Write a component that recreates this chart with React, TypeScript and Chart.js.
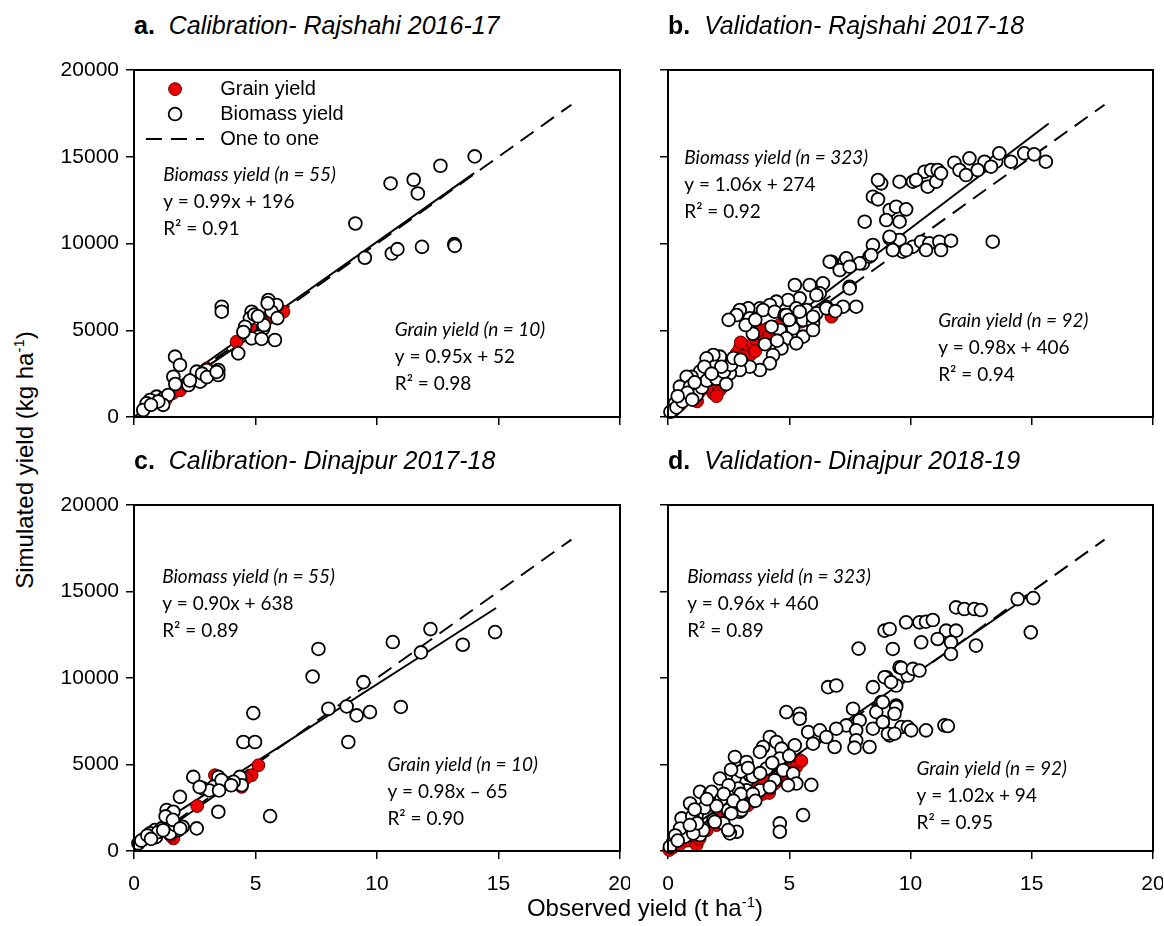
import React, { useEffect, useRef } from "react";
import { Chart, registerables } from "chart.js";
Chart.register(...registerables);

type P = [number, number];

// ---------- DATA ----------
const panelLetters = ["a.", "b.", "c.", "d."];
const panelTitles = [
  "Calibration- Rajshahi 2016-17",
  "Validation- Rajshahi 2017-18",
  "Calibration- Dinajpur 2017-18",
  "Validation- Dinajpur 2018-19",
];
const xTickValues = [0, 5, 10, 15, 20];
const yTickValues = [0, 5000, 10000, 15000, 20000];

const aGrain: P[] = [
  [1.6, 1380], [1.9, 1540], [4.22, 4340], [6.15, 6070], [5.39, 5690], [4.91, 5015],
  [1.3, 1000], [2.5, 2300], [3.0, 2800], [5.7, 5800],
];
const aBiomass: P[] = [
  [14.02, 15019], [12.61, 14481], [11.51, 13673], [11.68, 12885], [10.56, 13462], [9.11, 11154],
  [9.5, 9180], [10.61, 9423], [10.84, 9673], [11.85, 9808], [13.18, 9962], [13.2, 9865],
  [3.61, 6358], [3.61, 6070], [5.53, 6743], [5.87, 6455], [5.66, 6070], [5.5, 6550], [4.84, 6070],
  [4.77, 5686], [4.57, 5206], [5.32, 5110], [5.12, 4630], [4.84, 4534], [5.25, 4500], [5.8, 4438],
  [4.29, 3669], [1.69, 3477], [1.89, 2997], [1.62, 2324], [2.58, 2613], [2.99, 2709], [3.47, 2709],
  [3.47, 2420], [2.72, 2036], [2.24, 1844], [0.93, 1172], [1.21, 1076], [0.66, 980], [0.52, 788],
  [0.38, 403], [1.41, 1268], [1.2, 700], [5.9, 5700], [4.95, 5900], [5.35, 5300], [2.8, 2500],
  [3.0, 2300], [1.0, 900], [0.7, 700], [5.1, 5800], [4.5, 4900], [3.4, 2600], [2.3, 2100], [1.7, 1900],
];

const bGrain: P[] = [
  [0.5, 700], [0.8, 1100], [1.04, 1556], [1.3, 1450], [1.87, 1364], [2.14, 1556], [1.2, 900], [2.0, 1200],
  [2.3, 1800], [2.6, 2600], [2.83, 3669], [2.96, 3957], [3.31, 4053], [3.51, 4245], [3.65, 4438],
  [3.92, 4630], [3.79, 5014], [4.0, 4400], [4.1, 5100], [4.2, 4700], [3.4, 3600], [3.1, 3500],
  [4.4, 5000], [4.6, 5300], [5.5, 5500], [6.0, 5600], [6.74, 5782], [3.6, 3800], [3.0, 4300], [1.6, 1700],
];
const bBiomass: P[] = [
  [11.81, 14657], [12.43, 14907], [13.05, 14715], [13.53, 14715], [13.66, 15195], [14.14, 14715],
  [14.69, 15195], [15.1, 15137], [15.58, 14715], [12.02, 14235], [12.29, 13946], [12.77, 14235],
  [13.32, 14427], [10.58, 14139], [10.85, 14235], [11.12, 14235], [10.71, 13274], [11.06, 13562],
  [11.26, 14043], [10.1, 13562], [10.23, 13658], [9.55, 13562], [8.79, 13466], [8.66, 13658],
  [8.45, 12698], [8.66, 12544], [9.14, 11929], [9.41, 12121], [9.82, 11968], [9.0, 11353],
  [9.55, 11257], [8.11, 11257], [9.14, 10297], [9.55, 10200], [8.45, 9912], [10.1, 9816],
  [10.44, 10104], [10.78, 10008], [11.19, 10104], [11.67, 10162], [9.68, 9528], [9.27, 9624],
  [10.64, 9624], [11.26, 9624], [8.04, 8856], [8.31, 9240], [13.39, 10104],
  [9.14, 10393], [7.28, 8952], [6.74, 8952], [7.08, 8472], [7.49, 7511], [7.22, 6358], [7.76, 6358],
  [5.23, 7607], [5.84, 7607], [6.39, 7703], [6.26, 7127], [5.43, 6839], [4.95, 6743], [4.47, 6647],
  [4.2, 6455], [3.79, 6262], [3.31, 6262], [2.96, 6166], [2.83, 5878], [3.37, 5686], [3.92, 6166],
  [4.4, 6070], [4.81, 5878], [5.29, 6262], [5.71, 6166], [6.12, 5974], [6.53, 6358], [5.57, 5590],
  [5.98, 5398], [5.16, 5110], [4.61, 5014], [4.27, 5206], [4.88, 4534], [5.57, 4630], [5.98, 5014],
  [5.29, 4245], [4.68, 3957], [4.33, 3573], [4.2, 3093], [3.79, 2709], [3.37, 2900], [2.96, 2709],
  [2.55, 2516], [2.14, 3477], [1.87, 3573], [1.59, 3381], [1.93, 2900], [1.32, 2613], [0.97, 2324],
  [0.77, 2324], [0.49, 1748], [0.91, 1748], [1.18, 1268], [0.63, 1172], [0.29, 788], [0.22, 403],
  [6.67, 8952], [7.35, 9144], [7.9, 8856], [7.49, 8664], [8.38, 9336], [7.49, 7415], [6.12, 7031],
  [4.88, 5878], [5.43, 6070], [5.98, 5782], [6.53, 6262], [9.82, 9624],
  [0.1, 300], [0.35, 550], [0.6, 900], [0.8, 1400], [1.0, 1000], [1.4, 1700], [1.6, 2100], [2.0, 2200],
  [2.3, 2600], [2.6, 3000], [2.4, 1900], [1.1, 2000], [1.5, 2900], [0.4, 1200], [2.7, 3400], [3.0, 3300],
  [3.5, 4800], [3.2, 5300], [2.5, 5600], [4.0, 4200], [4.5, 4400], [5.0, 5600], [3.6, 5600], [6.9, 6100],
  [2.2, 2900], [1.8, 2500],
];

const cGrain: P[] = [
  [5.12, 4956], [4.84, 4380], [4.43, 3708], [3.33, 4380], [1.62, 730], [1.5, 900], [3.4, 3900],
  [4.6, 4200], [2.6, 2600], [1.8, 1200],
];
const cBiomass: P[] = [
  [7.59, 11680], [7.35, 10085], [9.44, 9759], [8.0, 8222], [8.75, 8356], [9.16, 7838], [9.71, 8030],
  [8.82, 6301], [4.91, 7972], [4.5, 6301], [4.98, 6301], [2.44, 4284], [3.47, 4284], [3.27, 3708],
  [2.85, 3612], [3.88, 3900], [4.36, 4284], [4.43, 3804], [1.89, 3131], [1.34, 2363], [1.62, 2267],
  [3.47, 2267], [5.6, 2017], [2.58, 1306], [0.86, 1210], [1.14, 1306], [1.55, 1402], [1.82, 1210],
  [0.66, 1018], [0.45, 730], [0.18, 442], [1.48, 1018], [10.65, 12077], [10.98, 8327], [12.2, 12827],
  [11.81, 11481], [13.53, 11923], [14.86, 12654], [0.3, 600], [0.9, 800], [1.7, 1500], [3.6, 4100],
  [4.1, 4000], [1.3, 2000], [1.0, 1100], [2.0, 1400], [3.1, 3500], [0.55, 900], [1.6, 1800],
  [4.0, 3800], [3.5, 3500], [1.2, 1200], [2.7, 3700], [0.7, 700], [1.9, 1300],
];

const dGrain: P[] = [
  [0.05, 60], [0.2, 200], [0.5, 400], [0.8, 600], [1.18, 346], [1.3, 700], [1.6, 1200], [1.9, 1700],
  [2.2, 2000], [2.4, 2400], [2.55, 2939], [2.8, 2700], [3.0, 2900], [3.2, 2684], [3.3, 2650],
  [3.5, 3100], [3.7, 3300], [3.9, 3300], [4.17, 3356], [4.2, 3600], [4.4, 3900], [4.6, 4200],
  [4.8, 4500], [5.0, 4700], [5.29, 4860], [5.5, 5200], [2.0, 1500], [1.0, 900], [3.6, 3700], [4.0, 4100],
];
const dBiomass: P[] = [
  [9.55, 10623], [9.89, 10143], [9.0, 10047], [8.45, 9471], [9.41, 9567], [6.6, 9471], [6.94, 9567],
  [8.79, 8606], [9.41, 8414], [7.63, 8222], [8.59, 8030], [7.9, 7550], [8.86, 7453], [7.35, 7261],
  [7.76, 6973], [8.45, 7069], [9.14, 6685], [9.62, 7165], [9.89, 7165], [7.76, 6397], [8.31, 6013],
  [7.69, 5974], [4.88, 8030], [5.43, 7934], [5.43, 7646], [5.78, 6877], [6.26, 6973], [6.94, 7069],
  [6.53, 6589], [6.87, 6013], [5.98, 6205], [4.2, 6589], [4.47, 6301], [3.92, 6013], [4.68, 5917],
  [5.23, 6109], [2.76, 5436], [3.24, 5148], [3.79, 5725], [4.06, 4764], [4.61, 5340], [4.75, 4668],
  [4.4, 4092], [5.16, 4476], [5.29, 3900], [4.95, 3804], [5.91, 3823], [2.14, 4188], [2.89, 4188],
  [3.24, 3996], [3.79, 3515], [1.32, 3419], [1.73, 3323], [0.91, 2747], [1.66, 2651], [2.48, 2363],
  [2.96, 2267], [1.18, 2075], [0.56, 1883], [1.87, 1787], [2.28, 1594], [2.83, 1114], [2.55, 1018],
  [1.32, 922], [0.7, 826], [0.22, 538], [0.08, 250], [4.61, 1594], [4.61, 1114], [5.57, 2075],
  [1.8, 3419], [1.93, 1690], [2.48, 1210], [3.03, 2363], [2.61, 2171], [1.45, 1210], [1.04, 1018],
  [3.24, 3515], [2.89, 3611], [3.38, 4380],
  [14.42, 14561], [15.06, 14619], [14.96, 12640], [11.88, 14081], [12.22, 13985], [12.63, 13985],
  [12.9, 13927], [9.82, 13216], [10.37, 13216], [10.64, 13255], [10.92, 13351], [8.93, 12736],
  [9.14, 12832], [11.47, 12736], [11.88, 12736], [11.12, 12256], [11.67, 12064], [10.44, 12064],
  [9.27, 11680], [11.67, 11391], [12.7, 11872], [9.62, 10585], [10.1, 10527], [10.37, 10431],
  [8.93, 10047], [9.2, 9759], [8.86, 8606], [9.41, 8318], [9.34, 7934], [8.86, 7454], [9.07, 6781],
  [9.34, 6781], [10.03, 6973], [10.64, 6973], [11.4, 7262], [11.54, 7223], [7.86, 11700],
  [3.0, 4600], [3.5, 4300], [2.5, 3800], [3.0, 3300], [2.2, 3000], [1.5, 2500], [1.0, 2000], [0.5, 1300],
  [0.3, 900], [1.2, 1600], [2.0, 2600], [3.5, 3300], [4.2, 3700], [3.8, 4500], [4.3, 5100], [5.0, 5500],
  [2.6, 4700], [3.3, 4800], [0.9, 1500], [1.6, 3000], [2.3, 3300], [2.7, 2900], [3.1, 2600], [3.6, 2900],
  [1.1, 2400], [0.4, 600],
];

const grainSeries = [aGrain, bGrain, cGrain, dGrain];
const biomassSeries = [aBiomass, bBiomass, cBiomass, dBiomass];

// regression lines (y in kg ha-1 = slope * 1000 * x + intercept)
const biomassSlope = [0.99, 1.06, 0.9, 0.96];
const biomassIntercept = [196, 274, 638, 460];
const biomassRange: P[] = [[0.3, 14.0], [0.3, 15.7], [0.1, 14.9], [0.05, 15.1]];
const grainSlope = [0.95, 0.98, 0.98, 1.02];
const grainIntercept = [52, 406, -65, 94];
const grainRange: P[] = [[1.3, 6.2], [0.5, 6.7], [1.2, 5.2], [0.0, 5.5]];
const oneToOne: P[] = [[0, 0], [18, 18000]];

const biomassLabel = ["Biomass yield (n = 55)", "Biomass yield (n = 323)", "Biomass yield (n = 55)", "Biomass yield (n = 323)"];
const biomassEq = ["y = 0.99x + 196", "y = 1.06x + 274", "y = 0.90x + 638", "y = 0.96x + 460"];
const biomassR2 = ["R\u00b2 = 0.91", "R\u00b2 = 0.92", "R\u00b2 = 0.89", "R\u00b2 = 0.89"];
const grainLabel = ["Grain yield (n = 10)", "Grain yield (n = 92)", "Grain yield (n = 10)", "Grain yield (n = 92)"];
const grainEq = ["y = 0.95x + 52", "y = 0.98x + 406", "y = 0.98x \u2013 65", "y = 1.02x + 94"];
const grainR2 = ["R\u00b2 = 0.98", "R\u00b2 = 0.94", "R\u00b2 = 0.90", "R\u00b2 = 0.95"];
const legendLabels = ["Grain yield", "Biomass yield", "One to one"];

// ---------- LAYOUT ----------
const BOX = [
  { l: 134, t: 70, r: 620, b: 417 },
  { l: 668, t: 70, r: 1153, b: 417 },
  { l: 134, t: 505, r: 620, b: 851 },
  { l: 668, t: 505, r: 1153, b: 851 },
];
const Y_AXIS_W = 80;
const X_AXIS_H = 50;
const REGION = BOX.map((b) => ({ l: b.l - 90, t: b.t - 30, w: b.r - b.l + 100, h: b.b - b.t + 90 }));

// text anchors in data units [x, y]
const biomassTextAt: P[] = [[1.2, 13960], [0.67, 14940], [1.16, 15865], [0.79, 15820]];
const grainTextAt: P[] = [[10.73, 5000], [11.14, 5520], [10.43, 5000], [10.25, 4736]];
const legendMarkerX = 1.69;
const legendTextX = 3.55;
const legendDashX: P = [0.49, 2.88];
const legendRowsY = [18900, 17460, 16020];
const LINE_GAP = 27;

const TICK_FONT = { family: "'Liberation Sans', Arial, sans-serif", size: 21 };
const ANN_FONT = "Lato, 'Open Sans', sans-serif";
const ANN_SIZE = 19;
const RED = "#ee0000";
const PR = 6.4;

function makeChart(canvas: HTMLCanvasElement, i: number) {
  const box = BOX[i];
  const reg = REGION[i];
  const padding = {
    left: box.l - reg.l - Y_AXIS_W,
    top: box.t - reg.t,
    right: reg.l + reg.w - box.r,
    bottom: reg.t + reg.h - box.b - X_AXIS_H,
  };
  const showX = i >= 2;
  const showY = i % 2 === 0;
  const pts = (arr: P[]) => arr.map(([x, y]) => ({ x, y }));
  const fit = (s: number, b: number, r: P) => [
    { x: r[0], y: s * 1000 * r[0] + b },
    { x: r[1], y: s * 1000 * r[1] + b },
  ];

  const annot = {
    id: "annot" + i,
    afterDraw(chart: any) {
      const { ctx, chartArea } = chart;
      const xs = chart.scales.x;
      const ys = chart.scales.y;
      ctx.save();
      ctx.strokeStyle = "#000";
      ctx.lineWidth = 2;
      ctx.strokeRect(chartArea.left, chartArea.top, chartArea.right - chartArea.left, chartArea.bottom - chartArea.top);

      ctx.fillStyle = "#000";
      ctx.textBaseline = "middle";
      ctx.textAlign = "left";
      const block = (at: P, lines: string[]) => {
        const px = xs.getPixelForValue(at[0]);
        const py = ys.getPixelForValue(at[1]);
        lines.forEach((t, k) => {
          ctx.font = `${k === 0 ? "italic " : ""}${ANN_SIZE}px ${ANN_FONT}`;
          ctx.fillText(t, px, py + k * LINE_GAP);
        });
      };
      block(biomassTextAt[i], [biomassLabel[i], biomassEq[i], biomassR2[i]]);
      block(grainTextAt[i], [grainLabel[i], grainEq[i], grainR2[i]]);

      if (i === 0) {
        const mx = xs.getPixelForValue(legendMarkerX);
        const tx = xs.getPixelForValue(legendTextX);
        const [y1, y2, y3] = legendRowsY.map((v) => ys.getPixelForValue(v));
        ctx.beginPath();
        ctx.arc(mx, y1, PR, 0, Math.PI * 2);
        ctx.fillStyle = RED;
        ctx.fill();
        ctx.strokeStyle = "#550000";
        ctx.lineWidth = 1;
        ctx.stroke();
        ctx.beginPath();
        ctx.arc(mx, y2, PR, 0, Math.PI * 2);
        ctx.fillStyle = "#fff";
        ctx.fill();
        ctx.strokeStyle = "#000";
        ctx.lineWidth = 1.8;
        ctx.stroke();
        ctx.beginPath();
        ctx.setLineDash([16, 9]);
        ctx.lineWidth = 2;
        ctx.moveTo(xs.getPixelForValue(legendDashX[0]), y3);
        ctx.lineTo(xs.getPixelForValue(legendDashX[1]), y3);
        ctx.stroke();
        ctx.setLineDash([]);
        ctx.fillStyle = "#000";
        ctx.font = `20px 'Liberation Sans', Arial, sans-serif`;
        ctx.fillText(legendLabels[0], tx, y1);
        ctx.fillText(legendLabels[1], tx, y2);
        ctx.fillText(legendLabels[2], tx, y3);
      }
      ctx.restore();
    },
  };

  const lineDs = (data: any[], dash: number[] = []) => ({
    data,
    showLine: true,
    pointRadius: 0,
    borderColor: "#000",
    borderWidth: 2,
    borderDash: dash,
    fill: false,
    order: 3,
  });

  return new Chart(canvas, {
    type: "scatter",
    data: {
      datasets: [
        {
          data: pts(biomassSeries[i]),
          pointRadius: PR,
          pointBackgroundColor: "#fff",
          pointBorderColor: "#000",
          pointBorderWidth: 1.8,
          showLine: false,
          order: 1,
          clip: false,
        } as any,
        {
          data: pts(grainSeries[i]),
          pointRadius: PR,
          pointBackgroundColor: RED,
          pointBorderColor: "#550000",
          pointBorderWidth: 1,
          showLine: false,
          order: 2,
          clip: false,
        },
        lineDs(fit(biomassSlope[i], biomassIntercept[i], biomassRange[i])),
        lineDs(fit(grainSlope[i], grainIntercept[i], grainRange[i])),
        lineDs(pts(oneToOne), [16, 9]),
      ],
    },
    options: {
      animation: false,
      responsive: false,
      maintainAspectRatio: false,
      devicePixelRatio: 1,
      layout: { padding, autoPadding: false },
      events: [],
      plugins: { legend: { display: false }, tooltip: { enabled: false }, title: { display: false } },
      scales: {
        x: {
          type: "linear",
          min: 0,
          max: 20,
          afterFit: (s: any) => {
            s.height = X_AXIS_H;
            s.paddingLeft = 0;
            s.paddingRight = 0;
            s.paddingTop = 0;
            s.paddingBottom = 0;
          },
          afterBuildTicks: (s: any) => {
            s.ticks = xTickValues.map((v) => ({ value: v }));
          },
          ticks: {
            display: true,
            autoSkip: false,
            maxRotation: 0,
            color: "#000",
            font: TICK_FONT,
            padding: 13,
            callback: (v: any) => (showX ? String(v) : ""),
          },
          grid: { drawOnChartArea: false, drawTicks: true, tickLength: 8, color: "#000", lineWidth: 1.5 },
          border: { display: true, color: "#000", width: 2 },
        },
        y: {
          type: "linear",
          min: 0,
          max: 20000,
          afterFit: (s: any) => {
            s.width = Y_AXIS_W;
            s.paddingLeft = 0;
            s.paddingRight = 0;
            s.paddingTop = 0;
            s.paddingBottom = 0;
          },
          afterBuildTicks: (s: any) => {
            s.ticks = yTickValues.map((v) => ({ value: v }));
          },
          ticks: {
            display: true,
            autoSkip: false,
            color: "#000",
            font: TICK_FONT,
            padding: 7,
            callback: (v: any) => (showY ? String(v) : ""),
          },
          grid: { drawOnChartArea: false, drawTicks: true, tickLength: 8, color: "#000", lineWidth: 1.5 },
          border: { display: true, color: "#000", width: 2 },
        },
      },
    } as any,
    plugins: [annot],
  });
}

export default function App() {
  const r0 = useRef<HTMLCanvasElement>(null);
  const r1 = useRef<HTMLCanvasElement>(null);
  const r2 = useRef<HTMLCanvasElement>(null);
  const r3 = useRef<HTMLCanvasElement>(null);
  const refs = [r0, r1, r2, r3];

  useEffect(() => {
    const charts = refs.map((r, i) => makeChart(r.current as HTMLCanvasElement, i));
    return () => charts.forEach((c) => c.destroy());
  }, []);

  const titleFont = "'Liberation Sans', Arial, sans-serif";
  return (
    <div style={{ position: "absolute", left: 0, top: 0, width: 1164, height: 926, background: "#fff", overflow: "hidden" }}>
      {REGION.map((reg, i) => (
        <canvas
          key={i}
          ref={refs[i]}
          width={reg.w}
          height={reg.h}
          style={{ position: "absolute", left: reg.l, top: reg.t, width: reg.w, height: reg.h }}
        />
      ))}
      {BOX.map((b, i) => (
        <div
          key={"t" + i}
          style={{
            position: "absolute",
            left: b.l,
            top: b.t - 58,
            font: `25px ${titleFont}`,
            lineHeight: "26px",
            whiteSpace: "nowrap",
            color: "#000",
          }}
        >
          <b>{panelLetters[i]}</b>
          {"\u00a0\u00a0"}
          <i>{panelTitles[i]}</i>
        </div>
      ))}
      <div
        style={{
          position: "absolute",
          left: 24,
          top: 460,
          transform: "translate(-50%, -50%) rotate(-90deg)",
          font: `24px ${titleFont}`,
          whiteSpace: "nowrap",
          color: "#000",
        }}
      >
        Simulated yield (kg ha<sup style={{ fontSize: "15px" }}>-1</sup>)
      </div>
      <div
        style={{
          position: "absolute",
          left: 645,
          top: 907,
          transform: "translate(-50%, -50%)",
          font: `24px ${titleFont}`,
          whiteSpace: "nowrap",
          color: "#000",
        }}
      >
        Observed yield (t ha<sup style={{ fontSize: "15px" }}>-1</sup>)
      </div>
    </div>
  );
}
